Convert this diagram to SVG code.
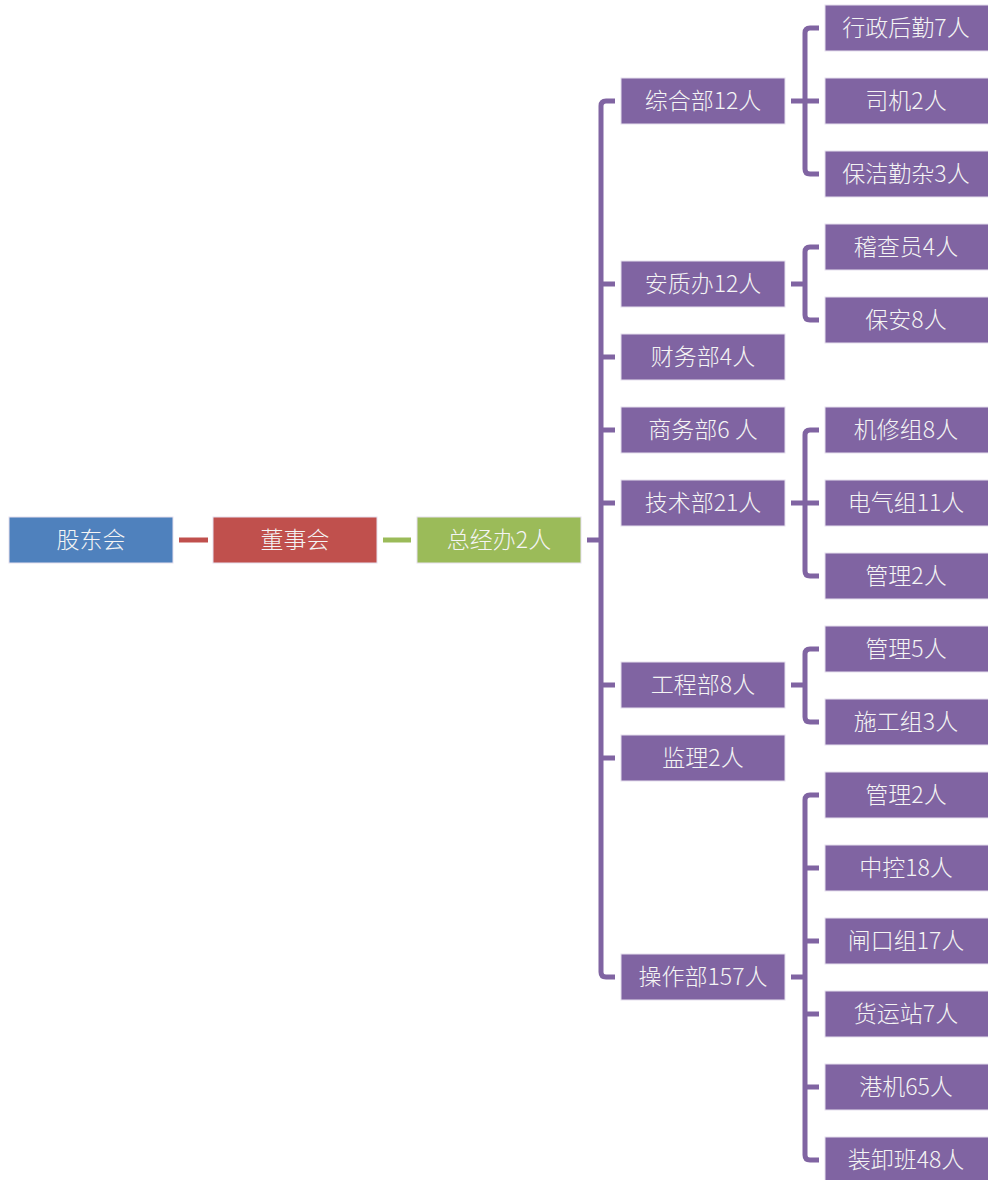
<svg xmlns="http://www.w3.org/2000/svg" width="988" height="1180" viewBox="0 0 988 1180">
<style>
.b{stroke:#e6e0ee;stroke-width:1}
.p{fill:#8064A2}
.t{font-family:"Noto Sans CJK SC","Liberation Sans",sans-serif;font-size:23px;font-weight:300;fill:#f4f4f4;text-anchor:middle}
.c{fill:none;stroke:#8064A2;stroke-width:5}
</style>
<rect width="988" height="1180" fill="#fff"/>
<g id="connectors">
<line x1="179" y1="540" x2="208" y2="540" stroke="#C0504D" stroke-width="5"/>
<line x1="383" y1="540" x2="411" y2="540" stroke="#9BBB59" stroke-width="5"/>
<path class="c" d="M587,540H601"/>
<path class="c" d="M615,101H606Q601,101 601,106V972Q601,977 606,977H615"/>
<path class="c" d="M601,284H615M601,357H615M601,430H615M601,503H615M601,685H615M601,758H615"/>
<path class="c" d="M791,101H805M819,28H810Q805,28 805,33V169Q805,174 810,174H819M805,101H819"/>
<path class="c" d="M791,284H805M819,247H810Q805,247 805,252V315Q805,320 810,320H819"/>
<path class="c" d="M791,503H805M819,430H810Q805,430 805,435V571Q805,576 810,576H819M805,503H819"/>
<path class="c" d="M791,685H805M819,649H810Q805,649 805,654V717Q805,722 810,722H819"/>
<path class="c" d="M791,977H805M819,795H810Q805,795 805,800V1155Q805,1160 810,1160H819M805,868H819M805,941H819M805,1014H819M805,1087H819"/>
</g>
<g id="n-gudonghui"><rect class="b" x="9" y="517" width="164" height="46" fill="#4F81BD"/><text class="t" x="91" y="548">股东会</text></g>
<g id="n-dongshihui"><rect class="b" x="213" y="517" width="164" height="46" fill="#C0504D"/><text class="t" x="295" y="548">董事会</text></g>
<g id="n-zongjingban"><rect class="b" x="417" y="517" width="164" height="46" fill="#9BBB59"/><text class="t" x="499" y="548">总经办2人</text></g>
<g id="n-zonghe"><rect class="p b" x="621" y="78" width="164" height="46"/><text class="t" x="703" y="109">综合部12人</text></g>
<g id="n-anzhi"><rect class="p b" x="621" y="261" width="164" height="46"/><text class="t" x="703" y="292">安质办12人</text></g>
<g id="n-caiwu"><rect class="p b" x="621" y="334" width="164" height="46"/><text class="t" x="703" y="365">财务部4人</text></g>
<g id="n-shangwu"><rect class="p b" x="621" y="407" width="164" height="46"/><text class="t" x="703" y="438">商务部6 人</text></g>
<g id="n-jishu"><rect class="p b" x="621" y="480" width="164" height="46"/><text class="t" x="703" y="511">技术部21人</text></g>
<g id="n-gongcheng"><rect class="p b" x="621" y="662" width="164" height="46"/><text class="t" x="703" y="693">工程部8人</text></g>
<g id="n-jianli"><rect class="p b" x="621" y="735" width="164" height="46"/><text class="t" x="703" y="766">监理2人</text></g>
<g id="n-caozuo"><rect class="p b" x="621" y="954" width="164" height="46"/><text class="t" x="703" y="985">操作部157人</text></g>
<g id="n-xingzheng"><rect class="p b" x="825" y="5" width="164" height="46"/><text class="t" x="906" y="36">行政后勤7人</text></g>
<g id="n-siji"><rect class="p b" x="825" y="78" width="164" height="46"/><text class="t" x="906" y="109">司机2人</text></g>
<g id="n-baojie"><rect class="p b" x="825" y="151" width="164" height="46"/><text class="t" x="906" y="182">保洁勤杂3人</text></g>
<g id="n-jicha"><rect class="p b" x="825" y="224" width="164" height="46"/><text class="t" x="906" y="255">稽查员4人</text></g>
<g id="n-baoan"><rect class="p b" x="825" y="297" width="164" height="46"/><text class="t" x="906" y="328">保安8人</text></g>
<g id="n-jixiu"><rect class="p b" x="825" y="407" width="164" height="46"/><text class="t" x="906" y="438">机修组8人</text></g>
<g id="n-dianqi"><rect class="p b" x="825" y="480" width="164" height="46"/><text class="t" x="906" y="511">电气组11人</text></g>
<g id="n-guanli1"><rect class="p b" x="825" y="553" width="164" height="46"/><text class="t" x="906" y="584">管理2人</text></g>
<g id="n-guanli2"><rect class="p b" x="825" y="626" width="164" height="46"/><text class="t" x="906" y="657">管理5人</text></g>
<g id="n-shigong"><rect class="p b" x="825" y="699" width="164" height="46"/><text class="t" x="906" y="730">施工组3人</text></g>
<g id="n-guanli3"><rect class="p b" x="825" y="772" width="164" height="46"/><text class="t" x="906" y="803">管理2人</text></g>
<g id="n-zhongkong"><rect class="p b" x="825" y="845" width="164" height="46"/><text class="t" x="906" y="876">中控18人</text></g>
<g id="n-zhakou"><rect class="p b" x="825" y="918" width="164" height="46"/><text class="t" x="906" y="949">闸口组17人</text></g>
<g id="n-huoyun"><rect class="p b" x="825" y="991" width="164" height="46"/><text class="t" x="906" y="1022">货运站7人</text></g>
<g id="n-gangji"><rect class="p b" x="825" y="1064" width="164" height="46"/><text class="t" x="906" y="1095">港机65人</text></g>
<g id="n-zhuangxie"><rect class="p b" x="825" y="1137" width="164" height="46"/><text class="t" x="906" y="1168">装卸班48人</text></g>
</svg>
